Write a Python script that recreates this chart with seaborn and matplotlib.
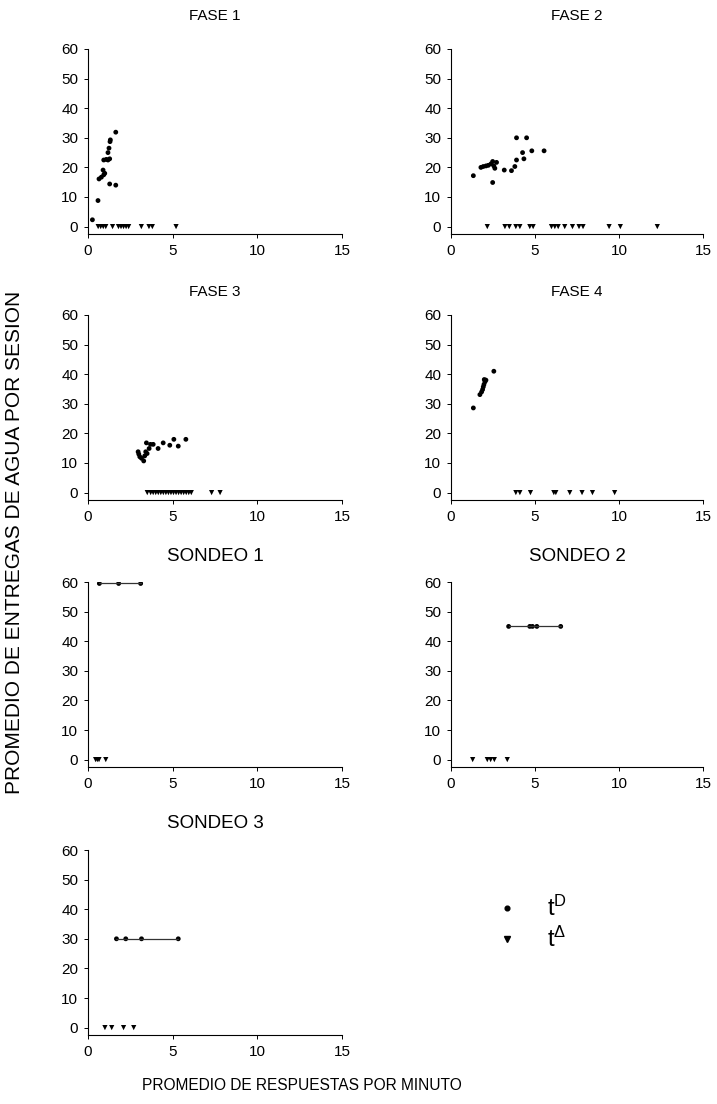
import matplotlib
matplotlib.use("Agg")
import matplotlib.pyplot as plt
import numpy as np
import pandas as pd
import seaborn as sns
from matplotlib.lines import Line2D

sns.set_style('ticks')
plt.rcParams['font.family'] = ['Liberation Sans', 'DejaVu Sans']
plt.rcParams['mathtext.default'] = 'regular'
for key in ['text.color', 'axes.labelcolor', 'xtick.color', 'ytick.color', 'axes.edgecolor']:
    plt.rcParams[key] = 'black'

# --- data (x = resp/min, y = water deliveries) ---
fase1_td_x = [0.26, 0.59, 0.65, 0.79, 0.93, 0.99, 0.89, 0.93, 1.08, 1.18, 1.28, 1.18, 1.24, 1.32, 1.30, 1.64, 1.28, 1.64]
fase1_td_y = [2.3, 8.8, 16.1, 16.7, 17.5, 18.0, 19.1, 22.5, 22.7, 22.5, 22.9, 25.0, 26.5, 29.3, 28.7, 31.9, 14.4, 14.0]
fase1_ta_x = [0.6, 0.75, 0.9, 1.05, 1.45, 1.8, 1.95, 2.1, 2.25, 2.4, 3.15, 3.6, 3.8, 5.2]

fase2_td_x = [1.33, 1.78, 1.92, 2.08, 2.22, 2.38, 2.48, 2.55, 2.61, 2.71, 2.48, 3.17, 3.6, 3.8, 3.9, 3.9, 4.26, 4.34, 4.5, 4.81, 5.54]
fase2_td_y = [17.2, 20.0, 20.3, 20.5, 20.7, 21.2, 22.0, 20.5, 19.7, 21.7, 14.9, 19.1, 18.9, 20.3, 22.5, 30.0, 25.0, 22.9, 30.0, 25.6, 25.6]
fase2_ta_x = [2.16, 3.21, 3.47, 3.86, 4.1, 4.69, 4.89, 5.98, 6.18, 6.38, 6.77, 7.23, 7.62, 7.86, 9.41, 10.08, 12.28]

fase3_td_x = [2.96, 3.0, 3.06, 3.16, 3.29, 3.35, 3.41, 3.45, 3.49, 3.61, 3.69, 3.85, 4.14, 4.44, 4.83, 5.07, 5.33, 5.78]
fase3_td_y = [13.8, 13.0, 12.1, 11.6, 10.7, 12.4, 13.8, 16.8, 13.2, 14.9, 16.3, 16.3, 14.9, 16.8, 16.0, 18.0, 15.7, 18.0]
fase3_ta_x = [3.5, 3.7, 3.85, 4.0, 4.15, 4.3, 4.45, 4.6, 4.75, 4.9, 5.05, 5.2, 5.35, 5.5, 5.65, 5.8, 5.95, 6.1, 7.3, 7.8]

fase4_td_x = [1.33, 1.72, 1.82, 1.88, 1.92, 1.96, 2.02, 2.08, 1.98, 2.55]
fase4_td_y = [28.6, 33.1, 34.0, 34.8, 35.7, 36.5, 37.4, 38.0, 38.2, 41.0]
fase4_ta_x = [3.86, 4.1, 4.73, 6.12, 6.24, 7.07, 7.8, 8.42, 9.74]

sondeo1_td_x = [0.67, 1.81, 3.11]
sondeo1_td_y = [59.5, 59.5, 59.5]
sondeo1_ta_x = [0.45, 0.55, 0.65, 1.05]

sondeo2_td_x = [3.43, 4.69, 4.85, 5.11, 6.53]
sondeo2_td_y = [45.0, 45.0, 45.0, 45.0, 45.0]
sondeo2_ta_x = [1.29, 2.16, 2.36, 2.58, 3.35]

sondeo3_td_x = [1.68, 2.23, 3.16, 5.33]
sondeo3_td_y = [30.0, 30.0, 30.0, 30.0]
sondeo3_ta_x = [1.0, 1.4, 2.1, 2.7]

panels = [
    ('FASE 1', fase1_td_x, fase1_td_y, fase1_ta_x, False),
    ('FASE 2', fase2_td_x, fase2_td_y, fase2_ta_x, False),
    ('FASE 3', fase3_td_x, fase3_td_y, fase3_ta_x, False),
    ('FASE 4', fase4_td_x, fase4_td_y, fase4_ta_x, False),
    ('SONDEO 1', sondeo1_td_x, sondeo1_td_y, sondeo1_ta_x, True),
    ('SONDEO 2', sondeo2_td_x, sondeo2_td_y, sondeo2_ta_x, True),
    ('SONDEO 3', sondeo3_td_x, sondeo3_td_y, sondeo3_ta_x, True),
]

W, H = 717, 1104
fig = plt.figure(figsize=(W / 100, H / 100), dpi=100)

col_left = [88, 451]
col_width = [254, 252]
row_top = [49, 315, 582, 850]
row_pad = [21, 14, 15, 15.5]
ax_h = 185

for i, (title, tdx, tdy, tax, joined) in enumerate(panels):
    r, c = divmod(i, 2)
    ax = fig.add_axes([col_left[c] / W, 1 - (row_top[r] + ax_h) / H,
                       col_width[c] / W, ax_h / H])
    if joined:
        sns.lineplot(x=tdx, y=tdy, ax=ax, color='#333333', linewidth=0.9,
                     estimator=None, sort=False)
    sns.scatterplot(x=tdx, y=tdy, ax=ax, marker='o', color='black', s=12,
                    edgecolor='none', legend=False)
    sns.scatterplot(x=tax, y=np.zeros(len(tax)), ax=ax, marker='v', color='black',
                    s=14, edgecolor='none', legend=False)
    ax.set_xlim(0, 15)
    ax.set_ylim(-2.5, 60)
    ax.set_xticks([0, 5, 10, 15])
    ax.set_yticks(range(0, 61, 10))
    ax.tick_params(axis='both', labelsize=11, length=3, width=0.7, pad=4)
    ax.set_title(title, fontsize=13.5 if title.startswith('SONDEO') else 11,
                 pad=row_pad[r])
    sns.despine(ax=ax)
    for sp in ['left', 'bottom']:
        ax.spines[sp].set_linewidth(0.8)

# legend in the empty 8th slot
handles = [
    Line2D([], [], marker='o', color='black', linestyle='none', markersize=3.4),
    Line2D([], [], marker='v', color='black', linestyle='none', markersize=3.8),
]
fig.legend(handles, ['$t^{D}$', r'$t^{\Delta}$'], loc='center left',
           bbox_to_anchor=(474 / W, 1 - 924 / H), frameon=False, fontsize=17,
           handletextpad=1.2, labelspacing=0.25, handlelength=1.0)

fig.text(15 / W, 1 - 542 / H, 'PROMEDIO DE ENTREGAS DE AGUA POR SESION',
         rotation=90, ha='center', va='center', fontsize=15)
fig.text(302 / W, 1 - 1085 / H, 'PROMEDIO DE RESPUESTAS POR MINUTO',
         ha='center', va='center', fontsize=11.2)

fig.savefig('out.png', dpi=100)
